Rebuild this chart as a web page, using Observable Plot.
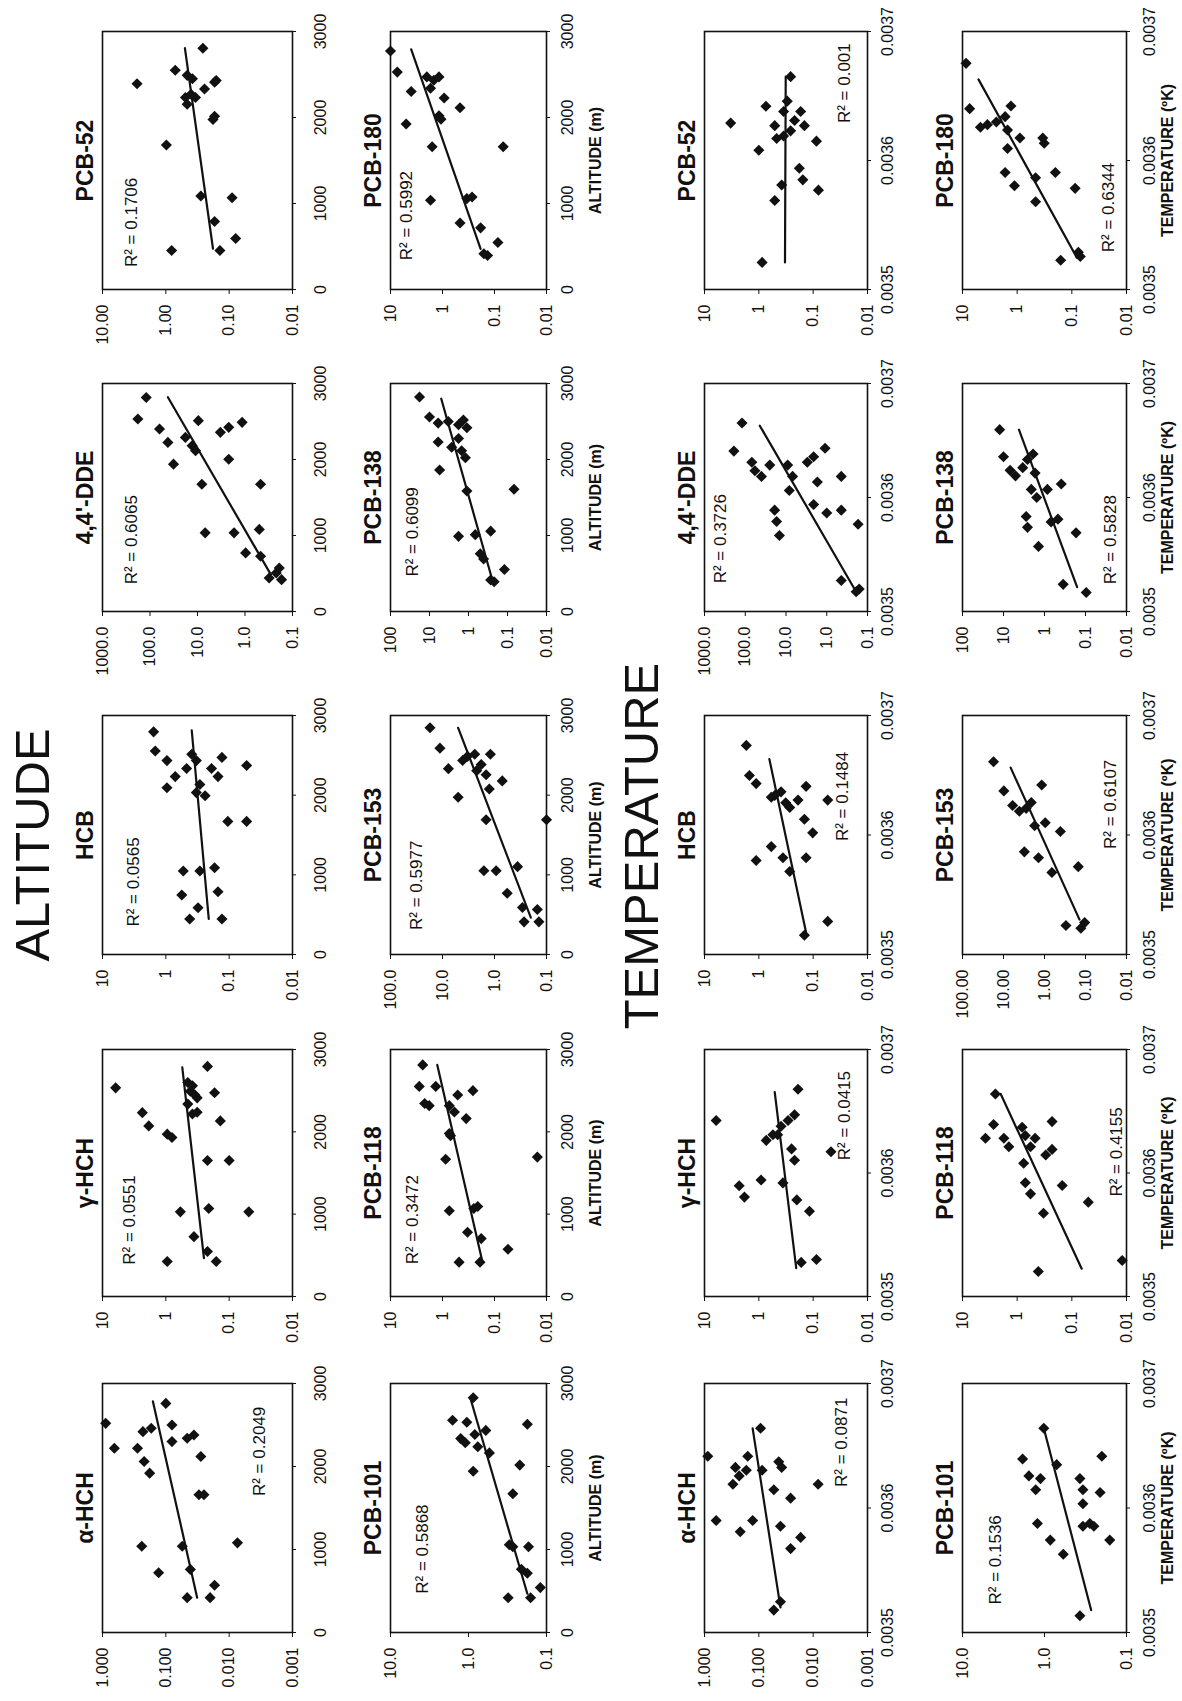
<!DOCTYPE html>
<html><head><meta charset="utf-8">
<script src="https://cdn.jsdelivr.net/npm/d3@7"></script>
<script src="https://cdn.jsdelivr.net/npm/@observablehq/plot@0.6"></script>
<style>
html,body{margin:0;padding:0;background:#fff;}
#page{position:relative;width:1182px;height:1701px;overflow:hidden;background:#fff;font-family:"Liberation Sans",Arial,sans-serif;}
#rot{position:absolute;left:0;top:0;width:1701px;height:1182px;transform-origin:0 0;transform:translate(0px,1701px) rotate(-90deg);}
.big{position:absolute;font-size:49px;line-height:49px;height:49px;white-space:nowrap;color:#111;transform:translateX(-50%);}
</style></head>
<body><div id="page"><div id="rot">
<div class="big" id="t1">ALTITUDE</div>
<div class="big" id="t2">TEMPERATURE</div>
</div></div>
<script>
// ---------- categories / labels ----------
const compounds1 = ["α-HCH", "γ-HCH", "HCB", "4,4'-DDE", "PCB-52"];
const compounds2 = ["PCB-101", "PCB-118", "PCB-153", "PCB-138", "PCB-180"];
const r2Alt1 = ["0.2049", "0.0551", "0.0565", "0.6065", "0.1706"];
const r2Alt2 = ["0.5868", "0.3472", "0.5977", "0.6099", "0.5992"];
const r2Tmp1 = ["0.0871", "0.0415", "0.1484", "0.3726", "0.001"];
const r2Tmp2 = ["0.1536", "0.4155", "0.6107", "0.5828", "0.6344"];

const altTicks = [0, 1000, 2000, 3000];
const altTickLabels = ["0", "1000", "2000", "3000"];
const tmpTicks = [0.0035, 0.0036, 0.0037];
const tmpTickLabels = ["0.0035", "0.0036", "0.0037"];

const ticksAHCH = [1, 0.1, 0.01, 0.001];      const labAHCH = ["1.000", "0.100", "0.010", "0.001"];
const ticksGHCH = [10, 1, 0.1, 0.01];         const labGHCH = ["10", "1", "0.1", "0.01"];
const ticksHCB = [10, 1, 0.1, 0.01];          const labHCB = ["10", "1", "0.1", "0.01"];
const ticksDDE = [1000, 100, 10, 1, 0.1];     const labDDE = ["1000.0", "100.0", "10.0", "1.0", "0.1"];
const ticksP52 = [10, 1, 0.1, 0.01];          const labP52alt = ["10.00", "1.00", "0.10", "0.01"]; const labP52tmp = ["10", "1", "0.1", "0.01"];
const ticksP101 = [10, 1, 0.1];               const labP101 = ["10.0", "1.0", "0.1"];
const ticksP118 = [10, 1, 0.1, 0.01];         const labP118 = ["10", "1", "0.1", "0.01"];
const ticksP153alt = [100, 10, 1, 0.1];       const labP153alt = ["100.0", "10.0", "1.0", "0.1"];
const ticksP153tmp = [100, 10, 1, 0.1, 0.01]; const labP153tmp = ["100.00", "10.00", "1.00", "0.10", "0.01"];
const ticksP138 = [100, 10, 1, 0.1, 0.01];   const labP138 = ["100", "10", "1", "0.1", "0.01"];
const ticksP180 = [10, 1, 0.1, 0.01];         const labP180 = ["10", "1", "0.1", "0.01"];

// ---------- ALTITUDE data: [altitude m, concentration] ----------
const altAHCH = [[2520,0.89],[2220,0.65],[2220,0.28],[2420,0.23],[2460,0.17],[2060,0.22],[1920,0.18],[2760,0.10],[2500,0.08],[2300,0.08],[2340,0.046],[2380,0.036],[2120,0.028],[1660,0.030],[1660,0.025],[1040,0.24],[1040,0.055],[1080,0.0074],[720,0.13],[760,0.041],[420,0.046],[420,0.020],[570,0.017]];
const altGHCH = [[2534,6.2],[2795,0.22],[2494,0.41],[2413,0.32],[2474,0.17],[2233,2.35],[2072,1.86],[1972,0.95],[1932,0.80],[2133,0.138],[2217,0.38],[2337,0.45],[2237,0.32],[2600,0.45],[2560,0.38],[2450,0.35],[1651,0.22],[1651,0.10],[1028,0.59],[1069,0.21],[1028,0.049],[727,0.36],[546,0.22],[425,0.95],[425,0.16]];
const altHCB = [[2795,1.56],[2554,1.47],[2434,0.96],[2093,0.96],[2233,0.71],[2334,0.47],[2514,0.39],[2434,0.33],[2334,0.19],[2233,0.15],[2474,0.13],[2373,0.053],[2032,0.33],[2133,0.29],[1992,0.24],[1671,0.105],[1671,0.053],[1048,0.53],[1048,0.29],[1088,0.17],[747,0.56],[787,0.15],[587,0.31],[446,0.42],[446,0.13]];
const altDDE = [[2815,120],[2533,180],[2401,63],[2225,42],[2511,9.6],[1939,32],[2291,18],[2180,13],[2115,11],[2357,3.3],[2423,2.2],[2489,1.15],[2004,2.2],[1674,8.1],[1674,0.47],[1035,6.9],[1035,1.7],[1080,0.50],[771,0.97],[727,0.47],[440,0.31],[572,0.19],[419,0.17],[506,0.22]];
const altP52 = [[2392,2.85],[1680,0.98],[454,0.81],[2549,0.71],[2806,0.26],[2490,0.46],[2451,0.38],[2411,0.17],[2430,0.16],[2233,0.49],[2233,0.34],[2154,0.46],[2332,0.245],[1976,0.18],[2015,0.17],[1087,0.28],[1067,0.09],[791,0.17],[593,0.079],[454,0.14],[2270,0.40]];
const altP101 = [[2558,1.6],[2828,0.87],[2533,1.05],[2336,1.26],[2287,1.1],[2386,0.83],[2435,0.60],[2238,0.76],[2164,0.54],[1943,0.87],[2509,0.176],[2017,0.22],[1672,0.27],[1058,0.30],[1033,0.27],[1033,0.17],[762,0.21],[713,0.176],[418,0.31],[418,0.16],[541,0.12]];
const altP118 = [[2813,2.4],[2552,2.8],[2344,2.2],[2318,1.8],[2552,1.35],[2318,0.74],[2448,0.51],[2240,0.59],[2161,0.35],[2500,0.26],[1979,0.74],[1953,0.70],[1667,0.87],[1693,0.015],[1042,0.74],[1068,0.25],[1094,0.21],[781,0.33],[703,0.18],[417,0.48],[417,0.19],[573,0.055]];
const altP153 = [[2846,17.4],[2590,11.2],[2333,7.7],[1974,5.0],[2436,4.1],[2487,3.3],[2513,2.4],[2385,1.8],[2308,2.2],[2513,1.2],[2256,1.45],[2077,1.26],[2179,0.71],[1692,1.45],[1692,0.10],[1051,1.6],[1051,0.93],[1103,0.36],[769,0.57],[590,0.29],[410,0.27],[564,0.15],[410,0.14]];
const altP138 = [[2822,18],[2560,10],[2479,6.0],[2500,3.3],[2458,1.8],[2519,1.35],[2418,1.1],[1862,5.5],[2230,6.0],[2161,2.7],[2276,1.8],[2023,1.2],[2115,1.5],[1586,1.1],[1609,0.068],[989,1.8],[1011,0.67],[1057,0.27],[759,0.50],[690,0.41],[552,0.12],[414,0.27],[391,0.22]];
const altP180 = [[2774,10],[2528,7.4],[2302,4.0],[2472,2.0],[2434,1.47],[2472,1.17],[2340,1.7],[2226,0.93],[2113,0.46],[2019,1.17],[1981,1.07],[1925,5.0],[1660,1.58],[1660,0.068],[1038,1.7],[1057,0.34],[1075,0.27],[774,0.46],[717,0.185],[547,0.086],[415,0.16],[396,0.136]];

// regression line end points [x0, y0, x1, y1]
const fitAlt1 = [[2784,0.16,420,0.032],[2783,0.55,466,0.25],[2815,0.39,446,0.21],[2819,42,485,0.285],[2806,0.50,474,0.18]];
const fitAlt2 = [[2828,0.95,467,0.176],[2813,1.26,417,0.17],[2846,5.0,462,0.20],[2800,5.0,430,0.25],[2792,4.0,472,0.185]];
// R² label anchors [x, y]
const r2PosAlt1 = [[1644,0.0033],[386,3.8],[350,3.2],[357,250],[261,3.5]];
const r2PosAlt2 = [[467,3.9],[391,3.8],[308,31],[460,27],[340,5.0]];

// ---------- TEMPERATURE data: [1/T, concentration] ----------
const tmpAHCH = [[0.0036416,0.87],[0.0035899,0.61],[0.0036191,0.30],[0.0036326,0.27],[0.0036258,0.23],[0.0036303,0.17],[0.0036416,0.16],[0.0035809,0.22],[0.0035899,0.13],[0.0036303,0.087],[0.0036146,0.053],[0.0036371,0.043],[0.0036326,0.038],[0.0036079,0.026],[0.0035854,0.040],[0.0035674,0.026],[0.0035764,0.017],[0.0036191,0.0081],[0.003518,0.053],[0.0035247,0.040],[0.003664,0.093]];
const tmpGHCH = [[0.0036425,6.1],[0.0035897,2.3],[0.0035805,1.84],[0.0035943,0.91],[0.0036264,0.73],[0.003631,0.55],[0.0036379,0.39],[0.0036425,0.29],[0.0036471,0.22],[0.0036678,0.19],[0.0036195,0.25],[0.0036103,0.22],[0.003592,0.36],[0.0035782,0.20],[0.003569,0.117],[0.0036172,0.047],[0.0035276,0.166],[0.0035299,0.087],[0.003631,0.45]];
const tmpHCB = [[0.003675,1.7],[0.0036498,1.49],[0.003643,1.12],[0.0036316,0.59],[0.0036361,0.39],[0.0036269,0.32],[0.0036292,0.19],[0.0036407,0.135],[0.0036292,0.054],[0.0036132,0.145],[0.0036018,0.102],[0.0035787,1.12],[0.0035903,0.59],[0.003581,0.36],[0.0035695,0.27],[0.003581,0.135],[0.0035161,0.145],[0.0035277,0.054],[0.003633,0.51],[0.003623,0.27]];
const tmpDDE = [[0.0036654,120],[0.0036407,190],[0.0036309,69],[0.0036235,58],[0.0036185,40],[0.0036284,25],[0.0035889,19],[0.003579,17],[0.0035667,14.5],[0.0036284,9.1],[0.0036185,6.9],[0.0036062,8.3],[0.0036309,3.0],[0.0036358,2.1],[0.0036432,1.1],[0.0036136,1.7],[0.0035938,2.1],[0.0035864,1.0],[0.0036185,0.44],[0.0035889,0.44],[0.0035765,0.17],[0.0035272,0.44],[0.0035198,0.16],[0.0035173,0.19]];
const tmpP52 = [[0.003629,3.3],[0.003608,1.0],[0.003521,0.87],[0.003569,0.51],[0.003581,0.38],[0.003642,0.74],[0.003627,0.51],[0.003638,0.35],[0.003665,0.26],[0.003646,0.30],[0.003631,0.22],[0.003638,0.17],[0.003627,0.145],[0.003619,0.35],[0.003623,0.26],[0.003594,0.18],[0.003585,0.155],[0.003615,0.087],[0.003577,0.080],[0.003617,0.47]];
const tmpP101 = [[0.0036393,1.85],[0.0036258,1.55],[0.0036146,1.28],[0.0036236,1.12],[0.003664,1.02],[0.0036348,0.71],[0.0035876,1.22],[0.0035742,0.85],[0.0035629,0.59],[0.0036236,0.37],[0.0036146,0.34],[0.0036416,0.20],[0.0036124,0.21],[0.0036034,0.34],[0.0035876,0.28],[0.0035854,0.25],[0.0035854,0.34],[0.0035742,0.16],[0.0035135,0.37]];
const tmpP118 = [[0.003664,2.5],[0.0036281,3.8],[0.0036393,2.7],[0.0036281,1.75],[0.0036213,1.42],[0.0036371,0.81],[0.0036303,0.71],[0.0036213,0.57],[0.0036281,0.47],[0.0036416,0.23],[0.0036079,0.76],[0.0036146,0.30],[0.0036191,0.23],[0.0035921,0.71],[0.0035831,0.57],[0.0035899,0.15],[0.0035674,0.33],[0.0035764,0.050],[0.0035202,0.41],[0.0035292,0.012]];
const tmpP153 = [[0.0036613,17.5],[0.0036369,9.8],[0.0036247,6.0],[0.0036199,4.1],[0.0036223,2.8],[0.0036272,2.1],[0.0036418,1.17],[0.0036078,1.74],[0.0036102,0.96],[0.0036029,0.41],[0.0035859,3.1],[0.003581,1.4],[0.0035686,0.66],[0.0035735,0.15],[0.0035243,0.30],[0.0035267,0.105],[0.003522,0.13]];
const tmpP138 = [[0.0036595,12.4],[0.0036357,10],[0.0036238,6.9],[0.003619,5.1],[0.0036262,3.4],[0.0036333,2.6],[0.0036381,1.9],[0.0036214,1.7],[0.0036071,2.1],[0.0036,1.55],[0.0036071,0.85],[0.0036119,0.39],[0.0035833,2.8],[0.0035738,2.6],[0.0035786,0.69],[0.003581,0.47],[0.003569,0.17],[0.0035571,1.4],[0.0035238,0.35],[0.0035167,0.096]];
const tmpP180 = [[0.0036753,8.6],[0.0036402,7.4],[0.0036258,4.7],[0.0036278,3.5],[0.0036299,2.4],[0.003634,1.66],[0.0036423,1.3],[0.0036237,1.5],[0.0036175,0.89],[0.0036175,0.34],[0.0036134,0.32],[0.0036093,1.5],[0.0035907,1.66],[0.0035804,1.12],[0.0035866,0.46],[0.0035907,0.20],[0.003568,0.46],[0.0035784,0.087],[0.0035227,0.16],[0.0035289,0.076],[0.0035256,0.07]];

const fitTmp1 = [[0.003664,0.13,0.0035202,0.04],[0.0036655,0.51,0.003523,0.205],[0.0036635,0.64,0.0035184,0.135],[0.003663,44,0.00352,0.21],[0.003665,0.32,0.003521,0.33]];
const fitTmp2 = [[0.003664,1.02,0.003518,0.27],[0.003664,2.0,0.0035225,0.066],[0.0036564,6.7,0.0035292,0.14],[0.0036595,4.2,0.0035214,0.16],[0.0036629,5.1,0.0035247,0.081]];
const r2PosTmp1 = [[0.0036169,0.003],[0.0036103,0.026],[0.0035949,0.029],[0.0035247,400],[0.003629,0.026]];
const r2PosTmp2 = [[0.0035225,4.0],[0.0035809,0.015],[0.0035883,0.024],[0.0035238,0.024],[0.0035289,0.021]];

// ---------- layout (unrotated figure, 1701 x 1182) ----------
const frameXs = [[68,317],[404,651],[746,985],[1089,1317],[1411,1669]];
const frameYs = {alt1:[102,292], alt2:[390,546], tmp1:[704,867], tmp2:[962,1126]};
const xPads = {alt1:18, alt2:11, tmp1:10, tmp2:13};
const titleOffsets = {alt2:49, tmp2:41};
const FONT = '"Liberation Sans", Arial, sans-serif';
const INK = "#111";

function fmt(vals, labels) {
  const m = new Map(vals.map((v, i) => [v, labels[i]]));
  return d => m.has(d) ? m.get(d) : "";
}

function panel(o) {
  const ml = 78, mr = 16, mt = 42, mb = 64;
  const fw = o.fx[1] - o.fx[0], fh = o.fy[1] - o.fy[0];
  const fitPts = [[o.fit[0], o.fit[1]], [o.fit[2], o.fit[3]]];
  const marks = [
    Plot.frame({stroke: INK, strokeWidth: 1.6}),
    Plot.axisY(o.yTicks, {tickSize: 4, tickPadding: 11, tickFormat: fmt(o.yTicks, o.yLabels), label: null, fontSize: 16}),
    Plot.axisX(o.xTicks, {tickSize: 4, tickPadding: o.xPad, tickFormat: fmt(o.xTicks, o.xLabels), label: null, fontSize: 16}),
    Plot.line(fitPts, {x: d => d[0], y: d => d[1], stroke: INK, strokeWidth: 2.2}),
    Plot.dot(o.pts, {x: d => d[0], y: d => d[1], symbol: "diamond2", r: 5, fill: INK, stroke: "none"}),
    Plot.text([{x: o.r2pos[0], y: o.r2pos[1], t: "R\u00b2 = " + o.r2}], {x: "x", y: "y", text: "t", textAnchor: "start", lineAnchor: "middle", fontSize: 17, fill: INK}),
    Plot.text([o.title], {frameAnchor: "top", dy: -17, lineAnchor: "middle", fontSize: 23, fontWeight: "bold", fill: INK})
  ];
  if (o.axisTitle) marks.push(Plot.text([o.axisTitle], {frameAnchor: "bottom", dy: o.titleDy, lineAnchor: "middle", fontSize: 16, fontWeight: "bold", fill: INK}));
  const svg = Plot.plot({
    width: fw + ml + mr, height: fh + mt + mb,
    marginLeft: ml, marginRight: mr, marginTop: mt, marginBottom: mb,
    style: {fontFamily: FONT, fontSize: "16px", color: INK, background: "transparent", overflow: "visible"},
    x: {domain: o.xDomain},
    y: {type: "log", domain: d3.extent(o.yTicks)},
    marks
  });
  svg.style.position = "absolute";
  svg.style.left = (o.fx[0] - ml) + "px";
  svg.style.top = (o.fy[0] - mt) + "px";
  svg.style.maxWidth = "none";
  document.getElementById("rot").appendChild(svg);
}

const altPts1 = [altAHCH, altGHCH, altHCB, altDDE, altP52];
const altPts2 = [altP101, altP118, altP153, altP138, altP180];
const tmpPts1 = [tmpAHCH, tmpGHCH, tmpHCB, tmpDDE, tmpP52];
const tmpPts2 = [tmpP101, tmpP118, tmpP153, tmpP138, tmpP180];
const yT1 = [ticksAHCH, ticksGHCH, ticksHCB, ticksDDE, ticksP52];
const yL1alt = [labAHCH, labGHCH, labHCB, labDDE, labP52alt];
const yL1tmp = [labAHCH, labGHCH, labHCB, labDDE, labP52tmp];
const yT2alt = [ticksP101, ticksP118, ticksP153alt, ticksP138, ticksP180];
const yT2tmp = [ticksP101, ticksP118, ticksP153tmp, ticksP138, ticksP180];
const yL2alt = [labP101, labP118, labP153alt, labP138, labP180];
const yL2tmp = [labP101, labP118, labP153tmp, labP138, labP180];

for (let i = 0; i < 5; i++) {
  panel({title: compounds1[i], pts: altPts1[i], fit: fitAlt1[i], r2: r2Alt1[i], r2pos: r2PosAlt1[i],
    yTicks: yT1[i], yLabels: yL1alt[i], xTicks: altTicks, xLabels: altTickLabels, xDomain: [0, 3000],
    fx: frameXs[i], fy: frameYs.alt1, xPad: xPads.alt1});
  panel({title: compounds2[i], pts: altPts2[i], fit: fitAlt2[i], r2: r2Alt2[i], r2pos: r2PosAlt2[i],
    yTicks: yT2alt[i], yLabels: yL2alt[i], xTicks: altTicks, xLabels: altTickLabels, xDomain: [0, 3000],
    fx: frameXs[i], fy: frameYs.alt2, xPad: xPads.alt2, axisTitle: "ALTITUDE (m)", titleDy: titleOffsets.alt2});
  panel({title: compounds1[i], pts: tmpPts1[i], fit: fitTmp1[i], r2: r2Tmp1[i], r2pos: r2PosTmp1[i],
    yTicks: yT1[i], yLabels: yL1tmp[i], xTicks: tmpTicks, xLabels: tmpTickLabels, xDomain: [0.0035, 0.0037],
    fx: frameXs[i], fy: frameYs.tmp1, xPad: xPads.tmp1});
  panel({title: compounds2[i], pts: tmpPts2[i], fit: fitTmp2[i], r2: r2Tmp2[i], r2pos: r2PosTmp2[i],
    yTicks: yT2tmp[i], yLabels: yL2tmp[i], xTicks: tmpTicks, xLabels: tmpTickLabels, xDomain: [0.0035, 0.0037],
    fx: frameXs[i], fy: frameYs.tmp2, xPad: xPads.tmp2, axisTitle: "TEMPERATURE (ºK)", titleDy: titleOffsets.tmp2});
}

const t1 = document.getElementById("t1");
t1.style.left = "856px"; t1.style.top = (32 - 24) + "px";
const t2 = document.getElementById("t2");
t2.style.left = "855px"; t2.style.top = (641 - 24) + "px";
</script>
</body></html>
